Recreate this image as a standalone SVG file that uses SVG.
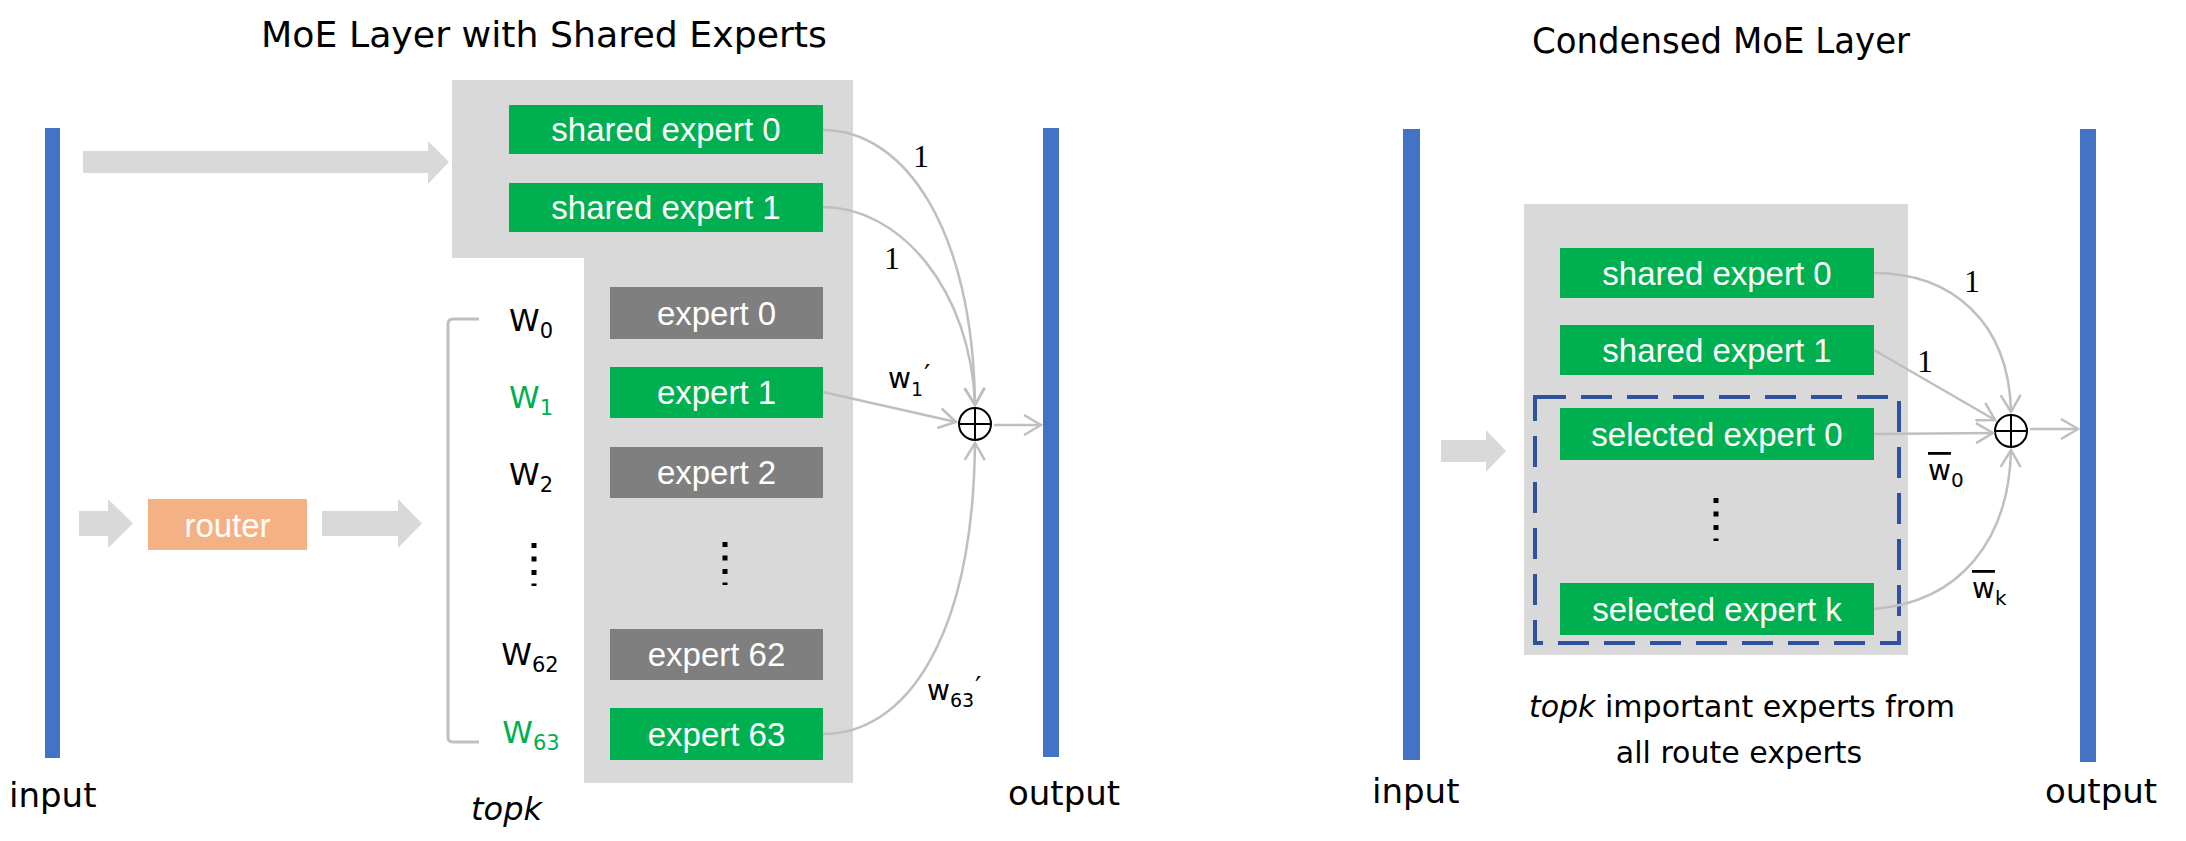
<svg xmlns="http://www.w3.org/2000/svg" width="2186" height="841" viewBox="0 0 2186 841">
<style>
.hand{font-family:"DejaVu Sans","Liberation Sans",sans-serif;fill:#000}
.box{font-family:"Liberation Sans",Arial,sans-serif;font-size:33px;fill:#fff;text-anchor:middle}
.g{fill:#00B050}
.d{fill:#7F7F7F}
.bar{fill:#4472C4}
.panel{fill:#D9D9D9}
.con{fill:none;stroke:#BFBFBF;stroke-width:2.5}
.one{font-family:"Liberation Serif","Times New Roman",serif;font-size:32px;text-anchor:middle}
.dots{stroke:#000;stroke-width:5;stroke-dasharray:5 8.5}
.ov{text-decoration:overline;text-decoration-thickness:3px}
</style>
<defs>
<marker id="ah" viewBox="0 0 20 22" refX="18" refY="11" markerWidth="20" markerHeight="22" markerUnits="userSpaceOnUse" orient="auto">
<path d="M1,1 L18,11 L1,21" fill="none" stroke="#BFBFBF" stroke-width="2.5"/>
</marker>
</defs>
<rect width="2186" height="841" fill="#fff"/>

<!-- Left panel -->
<g id="title-left"><text class="hand" x="544" y="47" font-size="35" text-anchor="middle" textLength="566" lengthAdjust="spacingAndGlyphs">MoE Layer with Shared Experts</text></g>
<g id="input-left"><rect class="bar" x="45" y="128" width="15" height="630"/><text class="hand" x="9" y="807" font-size="34">input</text></g>
<g id="output-left"><rect class="bar" x="1043" y="128" width="16" height="629"/><text class="hand" x="1008" y="805" font-size="34">output</text></g>
<g id="moe-container"><path class="panel" d="M452,80 H853 V783 H584 V258 H452 Z"/></g>
<g id="arrow-top"><polygon fill="#D9D9D9" points="83,151 428,151 428,141 449,162 428,184 428,173 83,173"/></g>
<g id="arrow-router-in"><polygon fill="#D9D9D9" points="79,511 108,511 108,499 133,523.5 108,548 108,536 79,536"/></g>
<g id="router"><rect x="148" y="499" width="159" height="51" fill="#F4B183"/><text class="box" x="227.5" y="537" font-size="37">router</text></g>
<g id="arrow-router-out"><polygon fill="#D9D9D9" points="322,511 398,511 398,499 422,523.5 398,548 398,536 322,536"/></g>

<g id="shared-expert-0"><rect class="g" x="509" y="105" width="314" height="49"/><text class="box" x="666" y="141">shared expert 0</text></g>
<g id="shared-expert-1"><rect class="g" x="509" y="183" width="314" height="49"/><text class="box" x="666" y="219">shared expert 1</text></g>
<g id="expert-0"><rect class="d" x="610" y="287" width="213" height="52"/><text class="box" x="716.5" y="325">expert 0</text></g>
<g id="expert-1"><rect class="g" x="610" y="367" width="213" height="51"/><text class="box" x="716.5" y="404">expert 1</text></g>
<g id="expert-2"><rect class="d" x="610" y="447" width="213" height="51"/><text class="box" x="716.5" y="484">expert 2</text></g>
<g id="expert-dots"><line class="dots" x1="725" y1="542" x2="725" y2="585"/></g>
<g id="expert-62"><rect class="d" x="610" y="629" width="213" height="51"/><text class="box" x="716.5" y="666">expert 62</text></g>
<g id="expert-63"><rect class="g" x="610" y="708" width="213" height="52"/><text class="box" x="716.5" y="746">expert 63</text></g>

<g id="weights">
<path d="M479,319 H453 Q448,319 448,324 V737 Q448,742 453,742 H479" fill="none" stroke="#BFBFBF" stroke-width="3"/>
<text class="hand" x="531" y="331" font-size="31" text-anchor="middle">W<tspan font-size="21" dy="7">0</tspan></text>
<text class="hand" x="531" y="408" font-size="31" text-anchor="middle" style="fill:#00B050">W<tspan font-size="21" dy="7">1</tspan></text>
<text class="hand" x="531" y="485" font-size="31" text-anchor="middle">W<tspan font-size="21" dy="7">2</tspan></text>
<line class="dots" x1="534" y1="543" x2="534" y2="586"/>
<text class="hand" x="530" y="665" font-size="31" text-anchor="middle">W<tspan font-size="21" dy="7">62</tspan></text>
<text class="hand" x="531" y="743" font-size="31" text-anchor="middle" style="fill:#00B050">W<tspan font-size="21" dy="7">63</tspan></text>
<text class="hand" x="471" y="820" font-size="32" font-style="italic">topk</text>
</g>

<g id="sum-left"><circle cx="975" cy="424" r="16" fill="none" stroke="#000" stroke-width="2"/><path d="M959,424 H991 M975,408 V440" stroke="#000" stroke-width="2"/></g>

<g id="connectors-left">
<path class="con" d="M823,130 C905,130 973,230 975,405" marker-end="url(#ah)"/>
<path class="con" d="M823,207 C900,207 971,290 975,405" marker-end="url(#ah)"/>
<path class="con" d="M823,392 L956,422" marker-end="url(#ah)"/>
<path class="con" d="M823,734 C905,734 973,640 975,443" marker-end="url(#ah)"/>
<path class="con" d="M994,425 L1041,425" marker-end="url(#ah)"/>
</g>
<g id="labels-left">
<text class="one" x="921" y="167">1</text>
<text class="one" x="892" y="269">1</text>
<text class="hand" x="888" y="388" font-size="28">w<tspan font-size="19" dy="8">1</tspan><tspan font-size="28" dx="1" dy="-11">′</tspan></text>
<text class="hand" x="927" y="700" font-size="28">w<tspan font-size="19" dy="7">63</tspan><tspan font-size="28" dx="1" dy="-10">′</tspan></text>
</g>

<!-- Right panel -->
<g id="title-right"><text class="hand" x="1721" y="53" font-size="35" text-anchor="middle" textLength="378" lengthAdjust="spacingAndGlyphs">Condensed MoE Layer</text></g>
<g id="input-right"><rect class="bar" x="1403" y="129" width="17" height="631"/><text class="hand" x="1372" y="803" font-size="34">input</text></g>
<g id="output-right"><rect class="bar" x="2080" y="129" width="16" height="633"/><text class="hand" x="2045" y="803" font-size="34">output</text></g>
<g id="arrow-right-in"><polygon fill="#D9D9D9" points="1441,440 1486,440 1486,430 1506,451 1486,472 1486,462 1441,462"/></g>
<g id="condensed-container"><rect class="panel" x="1524" y="204" width="384" height="451"/></g>
<g id="r-shared-expert-0"><rect class="g" x="1560" y="248" width="314" height="50"/><text class="box" x="1717" y="285">shared expert 0</text></g>
<g id="r-shared-expert-1"><rect class="g" x="1560" y="325" width="314" height="50"/><text class="box" x="1717" y="362">shared expert 1</text></g>
<g id="selected-group"><rect x="1535" y="397" width="364" height="246" fill="none" stroke="#2F52A0" stroke-width="4" stroke-dasharray="31 15"/></g>
<g id="selected-expert-0"><rect class="g" x="1560" y="408" width="314" height="52"/><text class="box" x="1717" y="446">selected expert 0</text></g>
<g id="selected-dots"><line class="dots" x1="1716" y1="498" x2="1716" y2="541"/></g>
<g id="selected-expert-k"><rect class="g" x="1560" y="583" width="314" height="52"/><text class="box" x="1717" y="621">selected expert k</text></g>
<g id="caption-right">
<text class="hand" x="1742" y="717" font-size="30" text-anchor="middle"><tspan font-style="italic">topk</tspan> important experts from</text>
<text class="hand" x="1739" y="763" font-size="30" text-anchor="middle">all route experts</text>
</g>
<g id="sum-right"><circle cx="2011" cy="431" r="16" fill="none" stroke="#000" stroke-width="2"/><path d="M1995,431 H2027 M2011,415 V447" stroke="#000" stroke-width="2"/></g>
<g id="connectors-right">
<path class="con" d="M1874,273 C1950,273 2009,320 2011,412" marker-end="url(#ah)"/>
<path class="con" d="M1874,350 L1995,420" marker-end="url(#ah)"/>
<path class="con" d="M1874,434 L1993,433" marker-end="url(#ah)"/>
<path class="con" d="M1874,609 C1960,602 2009,540 2011,450" marker-end="url(#ah)"/>
<path class="con" d="M2030,429 L2078,429" marker-end="url(#ah)"/>
</g>
<g id="labels-right">
<text class="one" x="1972" y="292">1</text>
<text class="one" x="1925" y="372">1</text>
<text class="hand" x="1928" y="480" font-size="28"><tspan class="ov">w</tspan><tspan font-size="20" dy="7">0</tspan></text>
<text class="hand" x="1972" y="598" font-size="28"><tspan class="ov">w</tspan><tspan font-size="20" dy="7">k</tspan></text>
</g>
</svg>
